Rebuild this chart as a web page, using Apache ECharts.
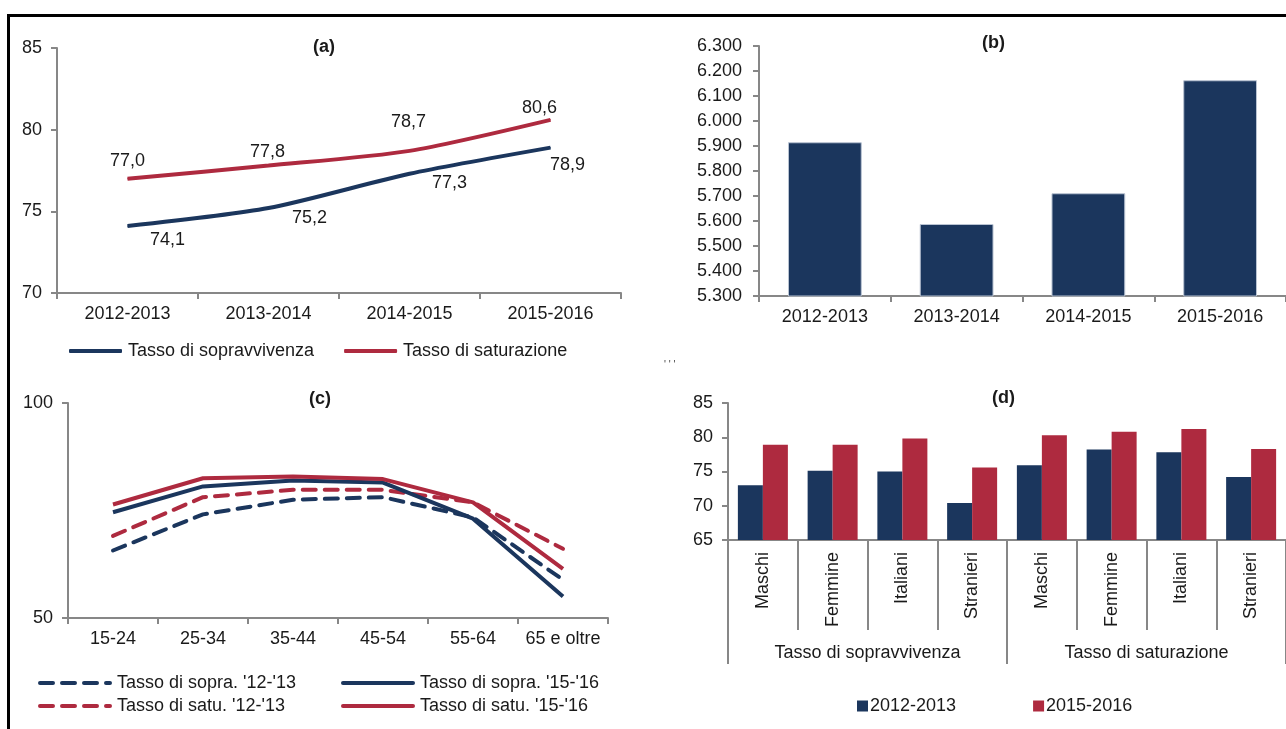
<!DOCTYPE html>
<html>
<head>
<meta charset="utf-8">
<script src="https://cdn.jsdelivr.net/npm/echarts@6/dist/echarts.min.js"></script>
<style>
html,body{margin:0;padding:0;background:#fff;}
#chart{width:1286px;height:729px;}
</style>
</head>
<body>
<div id="chart"></div>
<script>
// ---------- DATA ----------
const yearsA = ['2012-2013', '2013-2014', '2014-2015', '2015-2016'];
const sopravvivenzaA = [74.1, 75.2, 77.3, 78.9];
const saturazioneA = [77.0, 77.8, 78.7, 80.6];

const yearsB = ['2012-2013', '2013-2014', '2014-2015', '2015-2016'];
const valuesB = [5915, 5588, 5711, 6163];

const agesC = ['15-24', '25-34', '35-44', '45-54', '55-64', '65 e oltre'];
const sopra1213 = [65.7, 74.1, 77.5, 78.1, 73.4, 58.9];
const sopra1516 = [74.6, 80.6, 82.0, 81.5, 73.1, 55.0];
const satu1213 = [69.1, 78.1, 79.8, 79.8, 76.9, 66.1];
const satu1516 = [76.4, 82.5, 82.9, 82.3, 76.9, 61.4];

const subsD = ['Maschi', 'Femmine', 'Italiani', 'Stranieri', 'Maschi', 'Femmine', 'Italiani', 'Stranieri'];
const groupsD = ['Tasso di sopravvivenza', 'Tasso di saturazione'];
const d1213 = [73.0, 75.1, 75.0, 70.4, 75.9, 78.2, 77.8, 74.2];
const d1516 = [78.9, 78.9, 79.8, 75.6, 80.3, 80.8, 81.2, 78.3];

// label offsets (style only) for panel (a)
const offSopA = [[40, 14], [41, 10], [40, 9], [17, 17]];
const offSatA = [[0, -18], [-1, -14], [-1, -29], [-11, -12]];

// ---------- STYLE ----------
const NAVY = '#1b365d';
const RED = '#ae2a3f';
const AXIS = '#878787';
const TXT = '#1a1a1a';
const FONT = "'Liberation Sans', Arial, sans-serif";
const FS = 18;

const chart = echarts.init(document.getElementById('chart'), null, {renderer: 'canvas'});

function catAxis(grid, data, extra) {
  return Object.assign({
    type: 'category', gridIndex: grid, data: data, boundaryGap: true, position: 'bottom',
    axisLine: {show: true, lineStyle: {color: AXIS, width: 2}},
    axisTick: {show: true, length: 6, interval: 0, lineStyle: {color: AXIS, width: 2}},
    axisLabel: {color: TXT, fontFamily: FONT, fontSize: FS, margin: 12, interval: 0},
    splitLine: {show: false}
  }, extra || {});
}
function valAxis(grid, min, max, interval, extra) {
  return Object.assign({
    type: 'value', gridIndex: grid, min: min, max: max, interval: interval,
    axisLine: {show: true, lineStyle: {color: AXIS, width: 2}},
    axisTick: {show: true, length: 6, lineStyle: {color: AXIS, width: 2}},
    axisLabel: {color: TXT, fontFamily: FONT, fontSize: FS, margin: 15},
    splitLine: {show: false}
  }, extra || {});
}
const fmtComma = p => p.value.toFixed(1).replace('.', ',');
function withOffsets(vals, offs) {
  return vals.map((v, i) => ({value: v, label: {offset: offs[i]}}));
}
const titleStyle = {fontFamily: FONT, fontSize: FS, fontWeight: 'bold', color: TXT};
const legText = {color: TXT, fontFamily: FONT, fontSize: FS, padding: [0, 0, 0, 2]};
function lineLegend(name, left, top) {
  return {left: left, top: top, padding: 0, itemWidth: 70, itemHeight: 14,
    itemStyle: {opacity: 0},
    lineStyle: {width: 4, cap: 'round'},
    data: [name], textStyle: legText};
}

const option = {
  animation: false,
  backgroundColor: '#ffffff',
  textStyle: {fontFamily: FONT},
  title: [
    {text: '(a)', left: 313, top: 38, padding: 0, textStyle: titleStyle},
    {text: '(b)', left: 982, top: 34, padding: 0, textStyle: titleStyle},
    {text: '(c)', left: 309, top: 390, padding: 0, textStyle: titleStyle},
    {text: '(d)', left: 992, top: 389, padding: 0, textStyle: titleStyle},
    {text: "' ' '", left: 664, top: 360, padding: 0, textStyle: {fontFamily: FONT, fontSize: 10, fontWeight: 'normal', color: '#444'}}
  ],
  grid: [
    {left: 57, top: 48, width: 564, height: 245},
    {left: 759, top: 46, width: 533, height: 250},
    {left: 68, top: 403, width: 540, height: 215},
    {left: 728, top: 403, width: 560, height: 137}
  ],
  xAxis: [
    catAxis(0, yearsA),
    catAxis(1, yearsB),
    catAxis(2, agesC),
    catAxis(3, subsD, {
      axisTick: {show: true, length: 90, interval: 0, lineStyle: {color: AXIS, width: 2}},
      axisLabel: {color: TXT, fontFamily: FONT, fontSize: FS, margin: 12, interval: 0, rotate: 90}
    }),
    catAxis(3, groupsD, {
      position: 'bottom', offset: 0,
      axisLine: {show: false},
      axisTick: {show: true, length: 124, interval: 0, lineStyle: {color: AXIS, width: 2}},
      axisLabel: {color: TXT, fontFamily: FONT, fontSize: FS, margin: 104, interval: 0}
    })
  ],
  yAxis: [
    valAxis(0, 70, 85, 5),
    valAxis(1, 5300, 6300, 100, {
      axisLabel: {color: TXT, fontFamily: FONT, fontSize: FS, margin: 17,
        formatter: v => String(v).replace(/\B(?=(\d{3})+(?!\d))/g, '.')}
    }),
    valAxis(2, 50, 100, 50),
    valAxis(3, 65, 85, 5)
  ],
  legend: [
    {left: 69, top: 342, padding: 0, itemGap: 30, itemWidth: 53, itemHeight: 4, icon: 'roundRect',
      data: ['Tasso di sopravvivenza', 'Tasso di saturazione'],
      textStyle: {color: TXT, fontFamily: FONT, fontSize: FS, padding: [0, 0, 0, 1]}},
    lineLegend("Tasso di sopra. '12-'13", 38, 674),
    lineLegend("Tasso di sopra. '15-'16", 341, 674),
    lineLegend("Tasso di satu. '12-'13", 38, 697),
    lineLegend("Tasso di satu. '15-'16", 341, 697),
    {left: 857, top: 697, padding: 0, itemGap: 77, itemWidth: 11, itemHeight: 11, icon: 'rect',
      data: ['2012-2013', '2015-2016'], textStyle: {color: TXT, fontFamily: FONT, fontSize: FS, padding: [0, 0, 0, -3]}}
  ],
  series: [
    {name: 'Tasso di sopravvivenza', type: 'line', xAxisIndex: 0, yAxisIndex: 0,
      data: withOffsets(sopravvivenzaA, offSopA), smooth: 0.25,
      symbol: 'circle', symbolSize: 1, color: NAVY,
      lineStyle: {width: 4, color: NAVY},
      label: {show: true, position: 'inside', formatter: fmtComma, color: TXT, fontFamily: FONT, fontSize: FS}},
    {name: 'Tasso di saturazione', type: 'line', xAxisIndex: 0, yAxisIndex: 0,
      data: withOffsets(saturazioneA, offSatA), smooth: 0.25,
      symbol: 'circle', symbolSize: 1, color: RED,
      lineStyle: {width: 4, color: RED},
      label: {show: true, position: 'inside', formatter: fmtComma, color: TXT, fontFamily: FONT, fontSize: FS}},
    {name: 'b', type: 'bar', xAxisIndex: 1, yAxisIndex: 1, data: valuesB,
      barCategoryGap: '44%', itemStyle: {color: NAVY, borderColor: '#b9c3d2', borderWidth: 1}},
    {name: "Tasso di sopra. '12-'13", type: 'line', xAxisIndex: 2, yAxisIndex: 2, data: sopra1213,
      symbol: 'none', color: NAVY, lineStyle: {width: 4, color: NAVY, type: [13, 9], cap: 'round'}},
    {name: "Tasso di satu. '12-'13", type: 'line', xAxisIndex: 2, yAxisIndex: 2, data: satu1213,
      symbol: 'none', color: RED, lineStyle: {width: 4, color: RED, type: [13, 9], cap: 'round'}},
    {name: "Tasso di sopra. '15-'16", type: 'line', xAxisIndex: 2, yAxisIndex: 2, data: sopra1516,
      symbol: 'none', color: NAVY, lineStyle: {width: 4, color: NAVY}},
    {name: "Tasso di satu. '15-'16", type: 'line', xAxisIndex: 2, yAxisIndex: 2, data: satu1516,
      symbol: 'none', color: RED, lineStyle: {width: 4, color: RED}},
    {name: '2012-2013', type: 'bar', xAxisIndex: 3, yAxisIndex: 3, data: d1213,
      barWidth: 25, barGap: 0, itemStyle: {color: NAVY}},
    {name: '2015-2016', type: 'bar', xAxisIndex: 3, yAxisIndex: 3, data: d1516,
      barWidth: 25, barGap: 0, itemStyle: {color: RED}}
  ],
  graphic: [
    {type: 'polyline', silent: true, z: 100,
      shape: {points: [[8.5, 729], [8.5, 15.5], [1286, 15.5]]},
      style: {stroke: '#000', lineWidth: 3, fill: null}}
  ]
};
chart.setOption(option);
</script>
</body>
</html>
